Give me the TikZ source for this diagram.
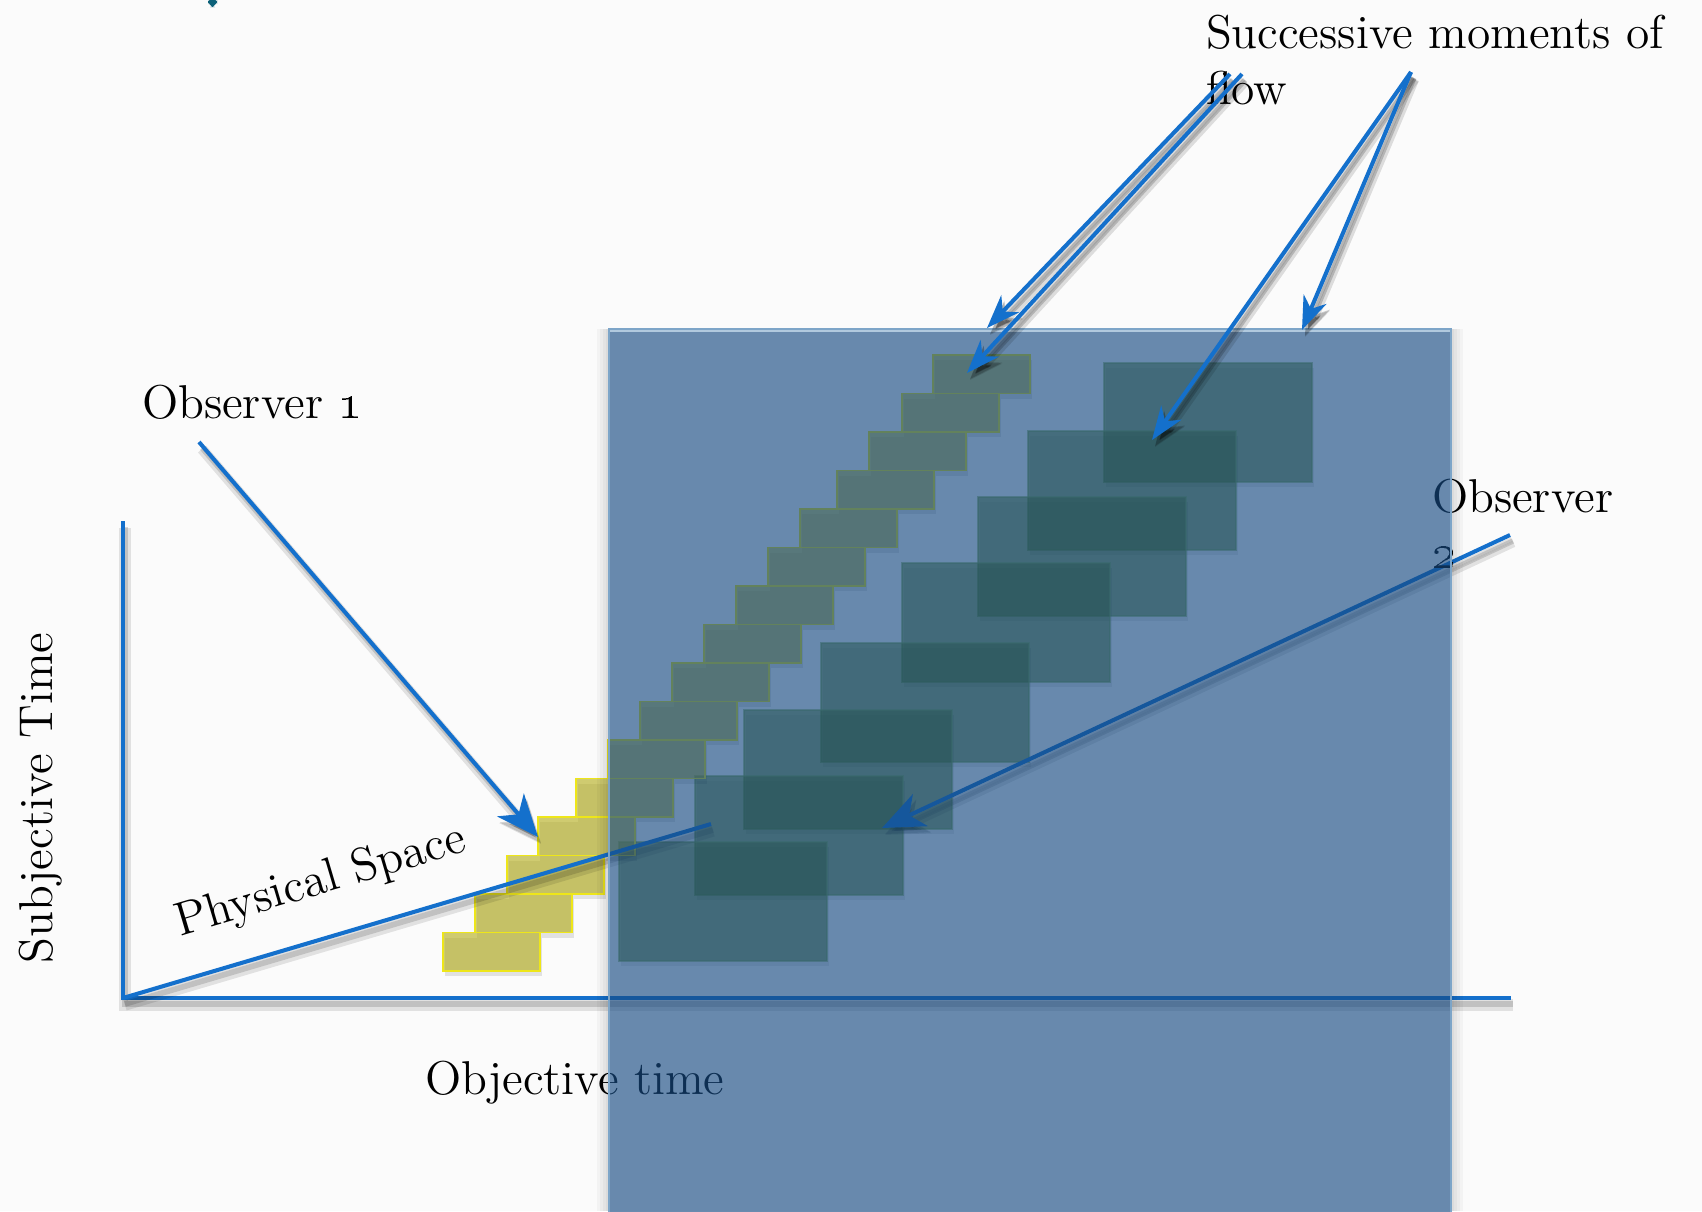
\documentclass[tikz,border=0pt]{standalone}
\usetikzlibrary{arrows.meta}
\definecolor{bg}{RGB}{251,251,251}
\definecolor{lineblue}{RGB}{20,112,204}
\definecolor{panelblue}{RGB}{22,74,130}
\definecolor{paneledge}{RGB}{125,165,200}
\definecolor{stairfill}{RGB}{180,174,28}
\definecolor{stairedge}{RGB}{238,230,25}
\definecolor{momentfill}{RGB}{68,104,0}
\definecolor{momentedge}{RGB}{120,160,70}
\definecolor{titleteal}{RGB}{11,96,120}
\begin{document}
\begin{tikzpicture}[x=0.01cm, y=-0.01cm, line join=miter,
  every node/.style={inner sep=0pt, outer sep=0pt},
  lbl/.style={font=\fontsize{13.5}{16}\selectfont, anchor=base west, text=black},
  blueline/.style={draw=lineblue, line width=1.15pt},
  dropline/.style={
    preaction={draw=black, draw opacity=0.10, line width=3.2pt,
      transform canvas={shift={(2,7)}}},
    preaction={draw=black, draw opacity=0.14, line width=1.6pt,
      transform canvas={shift={(2,6)}}}},
  tipbig/.style={-{Stealth[length=12pt,width=10pt,inset=3.5pt]}},
  tipsmall/.style={-{Stealth[length=9.5pt,width=7pt,inset=3pt]}},
  dropbig/.style={
    preaction={draw=black, fill=black, draw opacity=0.10, fill opacity=0.15,
      line width=3pt, -{Stealth[length=12pt,width=10pt,inset=3.5pt]},
      transform canvas={shift={(3,7)}}},
    preaction={draw=black, fill=black, draw opacity=0.14, fill opacity=0.2,
      line width=1.5pt, -{Stealth[length=12pt,width=10pt,inset=3.5pt]},
      transform canvas={shift={(3,6)}}}},
  dropsmall/.style={
    preaction={draw=black, fill=black, draw opacity=0.12, fill opacity=0.2,
      line width=3pt, -{Stealth[length=9.5pt,width=7pt,inset=3pt]},
      transform canvas={shift={(3,7)}}},
    preaction={draw=black, fill=black, draw opacity=0.18, fill opacity=0.3,
      line width=1.5pt, -{Stealth[length=9.5pt,width=7pt,inset=3pt]},
      transform canvas={shift={(3,6)}}}},
  stairbox/.style={fill=stairfill, fill opacity=0.62, draw=stairedge, line width=0.45pt,
      preaction={fill=black, fill opacity=0.10, draw=none, transform canvas={shift={(2,5)}}}},
  momentbox/.style={fill=momentfill, fill opacity=0.53, draw=momentedge, draw opacity=0.55,
      line width=0.45pt,
      preaction={fill=black, fill opacity=0.08, draw=none, transform canvas={shift={(2,5)}}}},
]
% canvas
\fill[bg] (0,0) rectangle (1702,1211);
\useasboundingbox (0,0) rectangle (1702,1211);

% piece of the heading above the frame
\fill[titleteal, rounded corners=2] (208,-3) rectangle (217,7);

% large moments of flow
\foreach \xl/\yt in {1104/363,1028/431,978/497,902/563,821/643,744/710,695/776,619/842}
  \path[momentbox] (\xl,\yt) rectangle ++(208,119);

% the staircase of small moments
\foreach \xl [count=\i from 0] in {933,902,869,837,800,768,736,704,672,640,608,576,538,507,475,443}
  \path[stairbox] (\xl,{355+38.5*\i}) rectangle ++(97,38.5);

% axes and reference points
\coordinate (O) at (123,998);
\coordinate (ytop) at (123,521);
\coordinate (xend) at (1511,998);
\coordinate (pend) at (711,824);
\coordinate (o1s) at (199,442);
\coordinate (o1t) at (538,837);
\coordinate (o2s) at (1510,535);
\coordinate (o2t) at (882,828);

\draw[blueline, dropline] (ytop) -- (O) -- (xend);
\draw[blueline, dropline] (O) -- (pend);
\draw[blueline, dropbig, tipbig] (o1s) -- (o1t);
\draw[blueline, dropbig, tipbig] (o2s) -- (o2t);

% labels
\node[lbl] (obs1) at (142,418) {Observer \oldstylenums{1}};
\node[lbl] (obs2) at (1432,512) {Observer};
\node[lbl] (obs2n) at (1432,568) {\oldstylenums{2}};
\node[lbl] (objt) at (425,1094) {Objective time};
\node[lbl, rotate=90] (subt) at (53,963) {Subjective Time};
\node[lbl, rotate=16.5] (phys) at (180,936) {Physical Space};

% translucent frame with its soft shadow
\foreach \k in {1,2,3,4}{
  \fill[black, fill opacity=0.03] ({609-3*\k},329) rectangle (609,1211);
  \fill[black, fill opacity=0.03] (1451,329) rectangle ({1451+3*\k},1211);
}
\fill[panelblue, fill opacity=0.64] (609,329) rectangle (1451,1215);
\draw[paneledge, line width=0.5pt] (609,1215) -- (609,329) -- (1451,329) -- (1451,1215);
\draw[paneledge!60!white, line width=0.6pt] (610,331) -- (1450,331);

% successive moments of flow
\node[lbl] (succ) at (1206,48) {Successive moments of};
\node[lbl] (flow) at (1206,104) {flow};

\coordinate (f1s) at (1230,74);
\coordinate (f1t) at (987,328);
\coordinate (f2s) at (1242,74);
\coordinate (f2t) at (967,373);
\coordinate (f3s) at (1411,72);
\coordinate (f3t) at (1152,440);
\coordinate (f4t) at (1302,330);

\draw[blueline, dropsmall, tipsmall] (f1s) -- (f1t);
\draw[blueline, dropsmall, tipsmall] (f2s) -- (f2t);
\draw[blueline, dropsmall, tipsmall] (f3s) -- (f3t);
\draw[blueline, dropsmall, tipsmall] (f3s) -- (f4t);
\end{tikzpicture}
\end{document}
